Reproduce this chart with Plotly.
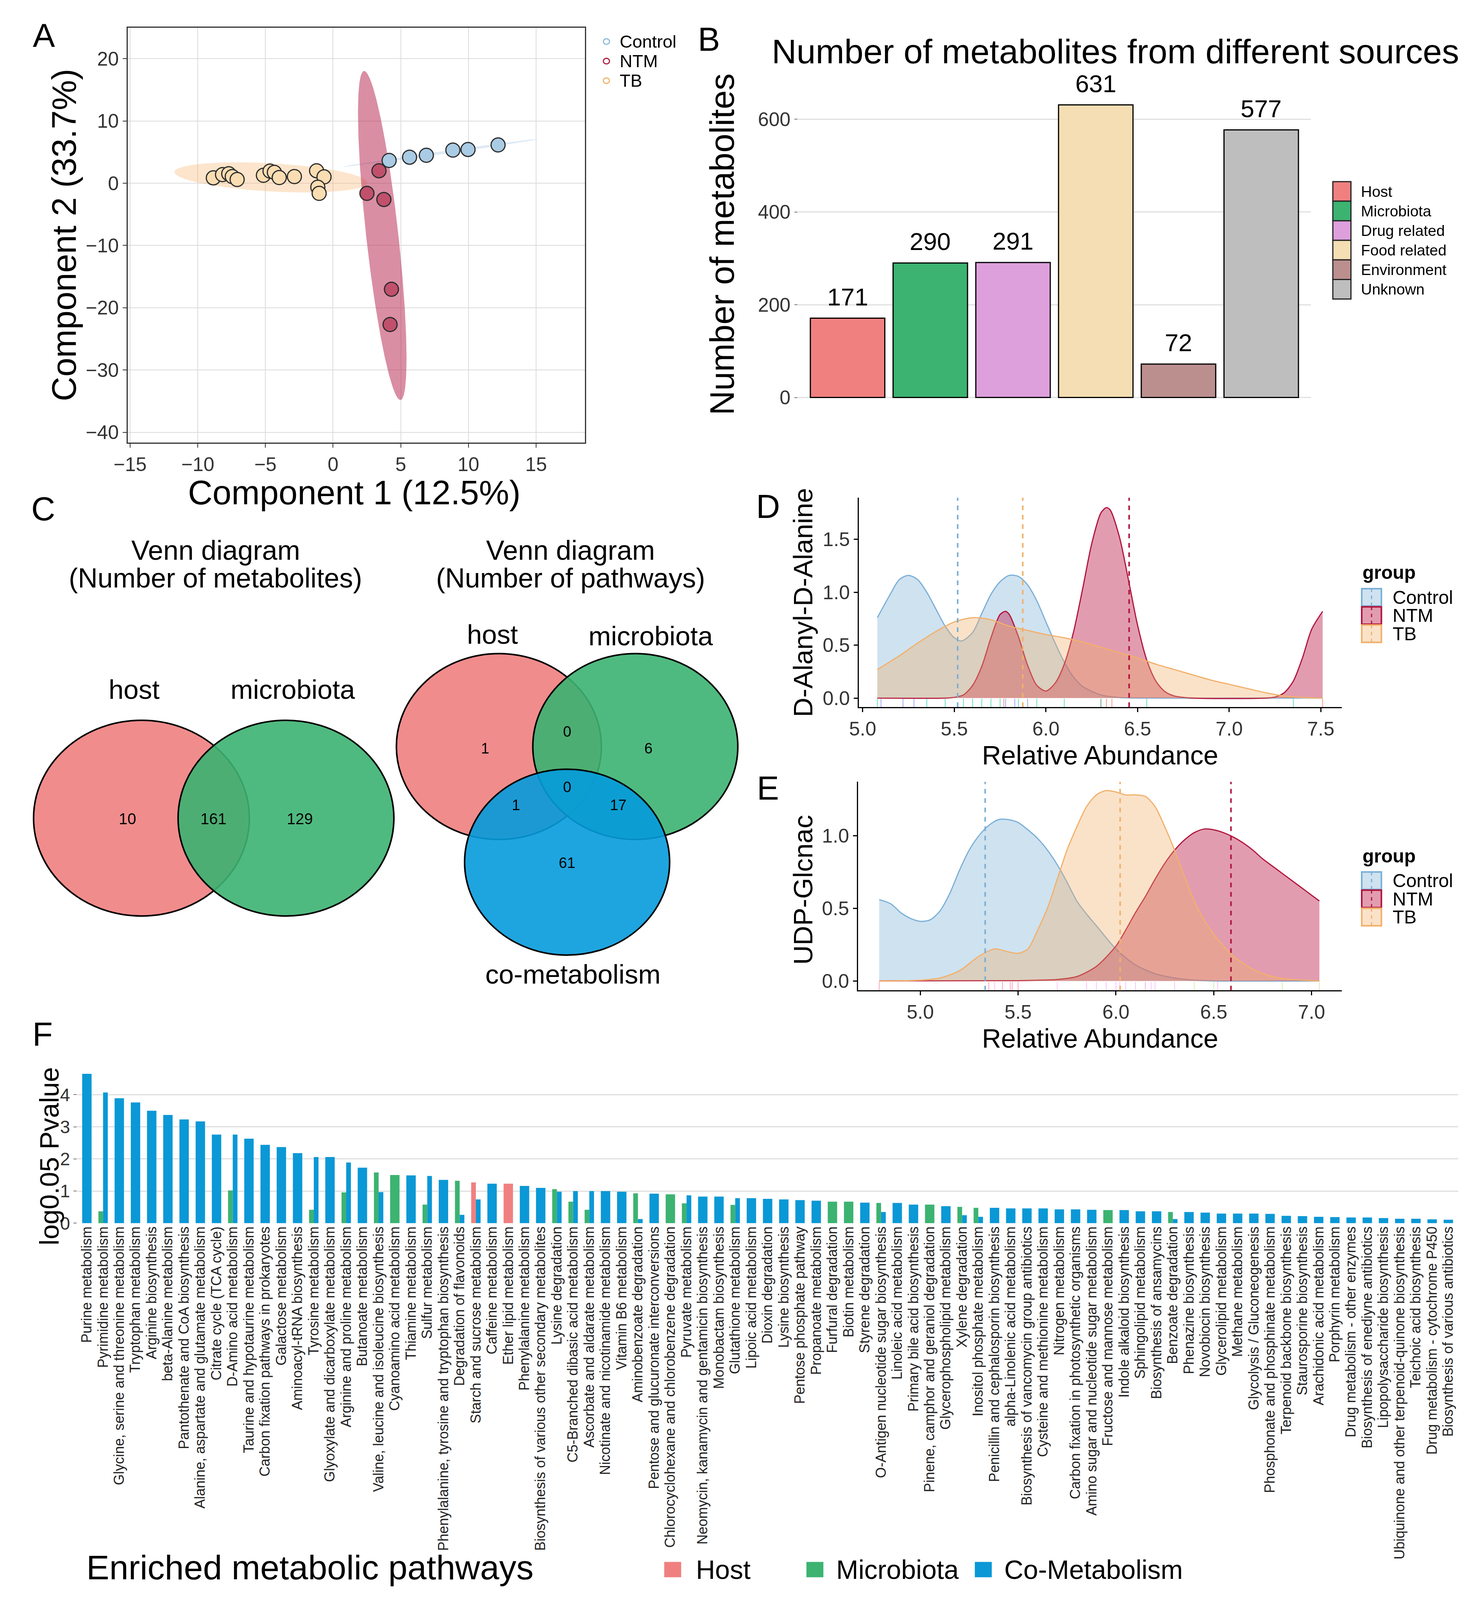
import numpy as np
import plotly.graph_objects as go

# reference frame the layout was measured in (pixels); the figure itself fills the window
W, H = 3780, 4533
FONT = "Liberation Sans, Arial, sans-serif"

# ---------------- data ----------------
# A: sample scores on components 1 and 2
score_groups = ["Control", "NTM", "TB"]
control_comp1 = [4.14, 5.65, 6.89, 8.85, 9.97, 12.19]
control_comp2 = [3.66, 4.18, 4.49, 5.32, 5.42, 6.15]
ntm_comp1 = [3.39, 2.50, 3.75, 4.31, 4.21]
ntm_comp2 = [2.00, -1.63, -2.61, -17.03, -22.69]
tb_comp1 = [-8.85, -8.17, -7.71, -7.45, -7.09, -5.15, -4.66, -4.34, -3.98, -2.86, -1.22, -0.67, -1.13, -1.03]
tb_comp2 = [0.86, 1.38, 1.53, 1.07, 0.60, 1.27, 1.95, 1.74, 0.91, 1.07, 2.00, 1.02, -0.64, -1.63]

# B: metabolites by source
sources = ["Host", "Microbiota", "Drug related", "Food related", "Environment", "Unknown"]
source_counts = [171, 290, 291, 631, 72, 577]

# C: venn counts
venn_metab_counts = [10, 161, 129]            # host only, shared, microbiota only
venn_path_counts = [1, 0, 6, 1, 0, 17, 61]    # h, h&m, m, h&c, all, m&c, c

# D: D-Alanyl-D-Alanine densities
dala_control_x = [5.08, 5.15, 5.20, 5.25, 5.30, 5.35, 5.40, 5.45, 5.50, 5.54, 5.60, 5.65, 5.70, 5.75,
                  5.80, 5.85, 5.90, 5.95, 6.00, 6.05, 6.10, 6.15, 6.20, 6.30, 6.40, 6.60, 7.00, 7.51]
dala_control_y = [0.76, 0.98, 1.12, 1.16, 1.12, 1.00, 0.84, 0.68, 0.57, 0.54, 0.62, 0.80, 0.98, 1.10,
                  1.16, 1.15, 1.07, 0.92, 0.72, 0.52, 0.34, 0.20, 0.11, 0.03, 0.005, 0.0, 0.0, 0.0]
dala_ntm_x = [5.08, 5.45, 5.50, 5.55, 5.60, 5.65, 5.70, 5.75, 5.78, 5.80, 5.85, 5.90, 5.95, 6.00,
              6.05, 6.10, 6.15, 6.20, 6.25, 6.30, 6.33, 6.35, 6.40, 6.45, 6.50, 6.55, 6.60, 6.65,
              6.70, 6.80, 7.20, 7.25, 7.30, 7.35, 7.40, 7.45, 7.51]
dala_ntm_y = [0.0, 0.0, 0.007, 0.03, 0.12, 0.30, 0.57, 0.79, 0.82, 0.79, 0.58, 0.31, 0.12, 0.067,
              0.14, 0.32, 0.62, 1.03, 1.46, 1.75, 1.80, 1.78, 1.53, 1.12, 0.69, 0.36, 0.16, 0.06,
              0.02, 0.0, 0.0, 0.01, 0.05, 0.16, 0.38, 0.65, 0.82]
dala_tb_x = [5.08, 5.20, 5.30, 5.40, 5.50, 5.60, 5.70, 5.80, 5.90, 6.00, 6.10, 6.20, 6.30, 6.40,
             6.50, 6.60, 6.70, 6.80, 6.90, 7.00, 7.10, 7.20, 7.30, 7.40, 7.51]
dala_tb_y = [0.27, 0.40, 0.52, 0.63, 0.72, 0.76, 0.74, 0.68, 0.64, 0.60, 0.57, 0.53, 0.48, 0.43,
             0.38, 0.32, 0.27, 0.22, 0.17, 0.13, 0.09, 0.05, 0.02, 0.005, 0.0]
dala_rug_control = [5.10, 5.22, 5.28, 5.78, 5.83, 5.90]
dala_rug_ntm = [5.77, 6.30, 6.33, 6.36, 7.51]
dala_rug_tb = [5.08, 5.35, 5.45, 5.55, 5.60, 5.65, 5.70, 5.75, 5.85, 5.95, 6.10, 6.30, 6.55, 7.35]

# E: UDP-Glcnac densities
udp_control_x = [4.79, 4.85, 4.90, 4.95, 5.00, 5.05, 5.10, 5.15, 5.20, 5.25, 5.30, 5.35, 5.40, 5.45, 5.50,
                 5.55, 5.60, 5.65, 5.70, 5.75, 5.80, 5.85, 5.90, 6.00, 6.10, 6.20, 6.30, 6.40, 6.50, 7.04]
udp_control_y = [0.56, 0.53, 0.47, 0.43, 0.41, 0.42, 0.48, 0.60, 0.76, 0.90, 1.00, 1.07, 1.11, 1.11, 1.09,
                 1.04, 0.98, 0.90, 0.80, 0.68, 0.55, 0.46, 0.38, 0.22, 0.11, 0.05, 0.02, 0.005, 0.0, 0.0]
udp_ntm_x = [4.79, 5.50, 5.60, 5.70, 5.80, 5.90, 6.00, 6.05, 6.10, 6.15, 6.20, 6.25, 6.30, 6.35,
             6.40, 6.45, 6.50, 6.55, 6.60, 6.65, 6.70, 6.75, 6.80, 6.85, 6.90, 6.95, 7.00, 7.04]
udp_ntm_y = [0.0, 0.002, 0.005, 0.01, 0.03, 0.10, 0.24, 0.35, 0.47, 0.58, 0.70, 0.81, 0.90, 0.97,
             1.02, 1.045, 1.04, 1.02, 0.99, 0.95, 0.90, 0.84, 0.79, 0.74, 0.69, 0.64, 0.59, 0.55]
udp_tb_x = [4.79, 5.00, 5.10, 5.20, 5.30, 5.38, 5.45, 5.50, 5.55, 5.60, 5.65, 5.70, 5.75, 5.80, 5.85, 5.90,
            5.95, 6.00, 6.05, 6.10, 6.15, 6.20, 6.25, 6.30, 6.35, 6.40, 6.45, 6.50, 6.55, 6.60, 6.70,
            6.80, 6.90, 7.04]
udp_tb_y = [0.0, 0.005, 0.02, 0.07, 0.17, 0.22, 0.20, 0.19, 0.22, 0.35, 0.50, 0.70, 0.90, 1.06, 1.20, 1.28,
            1.31, 1.30, 1.28, 1.28, 1.27, 1.20, 1.06, 0.90, 0.72, 0.55, 0.42, 0.32, 0.24, 0.17, 0.08,
            0.03, 0.01, 0.0]
udp_rug_control = [4.79, 5.35, 5.42, 5.47, 5.50, 5.46]
udp_rug_ntm = [6.15, 6.40, 6.50, 6.85, 7.04]
udp_rug_tb = [5.38, 5.70, 5.85, 5.90, 5.95, 6.00, 6.02, 6.05, 6.10, 6.15, 6.18, 6.20, 6.30, 6.52]

# F: enriched pathways, log0.05 p value by source
pathways = [
    "Purine metabolism", "Pyrimidine metabolism", "Glycine, serine and threonine metabolism",
    "Tryptophan metabolism", "Arginine biosynthesis", "beta-Alanine metabolism",
    "Pantothenate and CoA biosynthesis", "Alanine, aspartate and glutamate metabolism",
    "Citrate cycle (TCA cycle)", "D-Amino acid metabolism", "Taurine and hypotaurine metabolism",
    "Carbon fixation pathways in prokaryotes", "Galactose metabolism", "Aminoacyl-tRNA biosynthesis",
    "Tyrosine metabolism", "Glyoxylate and dicarboxylate metabolism", "Arginine and proline metabolism",
    "Butanoate metabolism", "Valine, leucine and isoleucine biosynthesis", "Cyanoamino acid metabolism",
    "Thiamine metabolism", "Sulfur metabolism", "Phenylalanine, tyrosine and tryptophan biosynthesis",
    "Degradation of flavonoids", "Starch and sucrose metabolism", "Caffeine metabolism",
    "Ether lipid metabolism", "Phenylalanine metabolism",
    "Biosynthesis of various other secondary metabolites", "Lysine degradation",
    "C5-Branched dibasic acid metabolism", "Ascorbate and aldarate metabolism",
    "Nicotinate and nicotinamide metabolism", "Vitamin B6 metabolism", "Aminobenzoate degradation",
    "Pentose and glucuronate interconversions", "Chlorocyclohexane and chlorobenzene degradation",
    "Pyruvate metabolism", "Neomycin, kanamycin and gentamicin biosynthesis", "Monobactam biosynthesis",
    "Glutathione metabolism", "Lipoic acid metabolism", "Dioxin degradation", "Lysine biosynthesis",
    "Pentose phosphate pathway", "Propanoate metabolism", "Furfural degradation", "Biotin metabolism",
    "Styrene degradation", "O-Antigen nucleotide sugar biosynthesis", "Linoleic acid metabolism",
    "Primary bile acid biosynthesis", "Pinene, camphor and geraniol degradation",
    "Glycerophospholipid metabolism", "Xylene degradation", "Inositol phosphate metabolism",
    "Penicillin and cephalosporin biosynthesis", "alpha-Linolenic acid metabolism",
    "Biosynthesis of vancomycin group antibiotics", "Cysteine and methionine metabolism",
    "Nitrogen metabolism", "Carbon fixation in photosynthetic organisms",
    "Amino sugar and nucleotide sugar metabolism", "Fructose and mannose metabolism",
    "Indole alkaloid biosynthesis", "Sphingolipid metabolism", "Biosynthesis of ansamycins",
    "Benzoate degradation", "Phenazine biosynthesis", "Novobiocin biosynthesis", "Glycerolipid metabolism",
    "Methane metabolism", "Glycolysis / Gluconeogenesis", "Phosphonate and phosphinate metabolism",
    "Terpenoid backbone biosynthesis", "Staurosporine biosynthesis", "Arachidonic acid metabolism",
    "Porphyrin metabolism", "Drug metabolism - other enzymes", "Biosynthesis of enediyne antibiotics",
    "Lipopolysaccharide biosynthesis", "Ubiquinone and other terpenoid-quinone biosynthesis",
    "Teichoic acid biosynthesis", "Drug metabolism - cytochrome P450", "Biosynthesis of various antibiotics",
]
N = None
host_p = [N] * 24 + [1.27, N, 1.23] + [N] * 58
microbiota_p = [
    N, 0.37, N, N, N, N, N, N, N, 1.02,
    N, N, N, N, 0.42, N, 0.96, N, 1.58, 1.50,
    N, 0.58, N, 1.32, N, N, N, N, N, 1.06,
    0.67, 0.42, N, N, 0.93, N, 0.90, 0.62, N, N,
    0.57, N, N, N, N, N, 0.67, 0.67, N, 0.63,
    N, N, 0.58, N, 0.51, 0.48, N, N, N, N,
    N, N, N, 0.41, N, N, N, 0.35, N, N,
    N, N, N, N, N, N, N, N, N, N,
    N, N, N, N, N,
]
cometab_p = [
    4.65, 4.07, 3.89, 3.76, 3.50, 3.37, 3.23, 3.17, 2.76, 2.76,
    2.63, 2.44, 2.37, 2.18, 2.06, 2.06, 1.89, 1.73, 0.97, N,
    1.49, 1.47, 1.35, 0.26, 0.74, 1.23, N, 1.16, 1.10, 0.98,
    1.00, 1.00, 1.00, 0.98, 0.13, 0.92, N, 0.87, 0.83, 0.83,
    0.78, 0.78, 0.76, 0.74, 0.72, 0.70, N, N, 0.64, 0.35,
    0.63, 0.58, N, 0.53, 0.25, 0.20, 0.48, 0.46, 0.46, 0.46,
    0.43, 0.43, 0.42, N, 0.41, 0.37, 0.37, 0.13, 0.35, 0.33,
    0.30, 0.30, 0.30, 0.29, 0.23, 0.22, 0.20, 0.19, 0.18, 0.18,
    0.16, 0.14, 0.14, 0.12, 0.11,
]

# ---------------- helpers ----------------
annotations = []
shapes = []


def dom_x(left, right):
    return [left / W, right / W]


def dom_y(top, bottom):
    return [1 - bottom / H, 1 - top / H]


def label(text, x, y, size, **kw):
    font = kw.pop("font", {})
    kw.setdefault("xanchor", "center")
    kw.setdefault("yanchor", "middle")
    annotations.append(dict(text=text, x=x / W, y=1 - y / H, xref="paper", yref="paper",
                            showarrow=False, font=dict(size=size, color="black", **font), **kw))


def rect(x0, y0, x1, y1, **kw):
    shapes.append(dict(type="rect", xref="paper", yref="paper",
                       x0=x0 / W, x1=x1 / W, y0=1 - y1 / H, y1=1 - y0 / H, **kw))


def circle(cx, cy, r, **kw):
    shapes.append(dict(type="circle", xref="paper", yref="paper",
                       x0=(cx - r) / W, x1=(cx + r) / W, y0=1 - (cy + r) / H, y1=1 - (cy - r) / H, **kw))


def conf_ellipse(x, y, level=0.95, n=240):
    pts = np.column_stack([x, y])
    mu = pts.mean(axis=0)
    vals, vecs = np.linalg.eigh(np.cov(pts.T))
    scale = np.sqrt(-2 * np.log(1 - level))
    t = np.linspace(0, 2 * np.pi, n)
    unit = np.column_stack([np.cos(t), np.sin(t)])
    ell = (unit * np.sqrt(vals) * scale) @ vecs.T + mu
    return ell[:, 0], ell[:, 1]


fig = go.Figure()

# ---------------- A ----------------
a_sets = [
    (control_comp1, control_comp2, "rgba(160,195,225,0.35)", "#AACBE4", "#8EBAD9"),
    (ntm_comp1, ntm_comp2, "rgba(185,50,90,0.55)", "#C0506C", "#B22043"),
    (tb_comp1, tb_comp2, "rgba(245,180,110,0.35)", "#FBDDB2", "#F0B46C"),
]
for xs, ys, ell_fill, _, _ in [a_sets[2], a_sets[0], a_sets[1]]:
    ex, ey = conf_ellipse(xs, ys)
    fig.add_trace(go.Scatter(x=ex, y=ey, mode="lines", fill="toself", fillcolor=ell_fill,
                             line=dict(width=0), hoverinfo="skip", xaxis="x", yaxis="y"))
for (xs, ys, _, pt_fill, _), name in zip(a_sets, score_groups):
    fig.add_trace(go.Scatter(x=xs, y=ys, mode="markers", name=name, xaxis="x", yaxis="y",
                             marker=dict(size=36, color=pt_fill, line=dict(color="#2b2b2b", width=3))))

for (_, _, _, _, leg_col), name, yy in zip(a_sets, score_groups, [110, 166, 222]):
    circle(1529, yy, 8, line=dict(color=leg_col, width=3), fillcolor="rgba(0,0,0,0)")
    label(name, 1561, yy, 45, xanchor="left")
label("Component 1 (12.5%)", 875, 1400, 87)
label("Component 2 (33.7%)", 121, 664, 87, textangle=-90)

# ---------------- B ----------------
source_colors = ["#F08080", "#3CB371", "#DDA0DD", "#F5DEB3", "#BC8F8F", "#BEBEBE"]
src_x = list(range(1, len(sources) + 1))
fig.add_trace(go.Bar(x=src_x, y=source_counts, width=0.9, xaxis="x2", yaxis="y2",
                     marker=dict(color=source_colors, line=dict(color="black", width=3))))
for xv, v in zip(src_x, source_counts):
    annotations.append(dict(text=str(v), x=xv, y=v, xref="x2", yref="y2", showarrow=False,
                            xanchor="center", yanchor="bottom", yshift=18,
                            font=dict(size=63, color="black")))
label("Number of metabolites from different sources", 2850, 138, 88)
label("Number of metabolites", 1828, 690, 87, textangle=-90)
for i, (name, col) in enumerate(zip(sources, source_colors)):
    top = 511 + i * 56
    rect(3414, top, 3461, top + 56, fillcolor=col, line=dict(color="#222", width=3))
    label(name, 3485, top + 28, 39, xanchor="left")

# ---------------- C ----------------
venn_host = "rgba(240,128,128,0.9)"
venn_micro = "rgba(60,179,113,0.9)"
venn_co = "rgba(5,155,220,0.9)"
# left: two-set venn
v2_cx, v2_cy, v2_sep, v2_r = 510, 2333, 375, 280
circle(v2_cx - v2_sep / 2, v2_cy, v2_r, fillcolor=venn_host, line=dict(color="black", width=4))
circle(v2_cx + v2_sep / 2, v2_cy, v2_r, fillcolor=venn_micro, line=dict(color="black", width=4))
for cnt, dx in zip(venn_metab_counts, [-224, 0, 224]):
    label(str(cnt), v2_cx + dx, v2_cy + 2, 40)
label("host", v2_cx - 207, 1965, 69)
label("microbiota", v2_cx + 205, 1965, 69)
label("Venn diagram", 515, 1566, 70)
label("(Number of metabolites)", 515, 1646, 70)
# right: three-set venn
v3_cx, v3_top, v3_sep, v3_drop, v3_r = 1427, 2128, 354, 331, 266
circle(v3_cx - v3_sep / 2, v3_top, v3_r, fillcolor=venn_host, line=dict(color="black", width=4))
circle(v3_cx + v3_sep / 2, v3_top, v3_r, fillcolor=venn_micro, line=dict(color="black", width=4))
circle(v3_cx, v3_top + v3_drop, v3_r, fillcolor=venn_co, line=dict(color="black", width=4))
v3_spots = [(-213, 5), (0, -43), (211, 5), (-133, 168), (0, 116), (132, 168), (0, 333)]
for cnt, (dx, dy) in zip(venn_path_counts, v3_spots):
    label(str(cnt), v3_cx + dx, v3_top + dy, 38)
label("host", 1233, 1808, 69)
label("microbiota", 1644, 1812, 69)
label("co-metabolism", 1442, 2780, 69)
label("Venn diagram", 1436, 1566, 70)
label("(Number of pathways)", 1436, 1646, 70)

# ---------------- D & E ----------------
dens_line = ["#7AAFD6", "#B0143C", "#F2B06A"]
dens_fill = ["rgba(122,175,214,0.36)", "rgba(190,35,80,0.45)", "rgba(242,176,106,0.36)"]
density_panels = [
    ("x3", "y3", [(dala_control_x, dala_control_y), (dala_ntm_x, dala_ntm_y), (dala_tb_x, dala_tb_y)],
     [dala_rug_control, dala_rug_ntm, dala_rug_tb], [-0.085, 1.893]),
    ("x4", "y4", [(udp_control_x, udp_control_y), (udp_ntm_x, udp_ntm_y), (udp_tb_x, udp_tb_y)],
     [udp_rug_control, udp_rug_ntm, udp_rug_tb], [-0.065, 1.37]),
]
for xa, ya, curves, rugs, yr in density_panels:
    for (cx, cy), lc, fc in zip(curves, dens_line, dens_fill):
        fig.add_trace(go.Scatter(x=cx, y=cy, mode="lines", fill="tozeroy", fillcolor=fc,
                                 line=dict(color=lc, width=3, shape="spline", smoothing=0.8),
                                 xaxis=xa, yaxis=ya, hoverinfo="skip"))
    for rug, lc in zip(rugs, dens_line):
        fig.add_trace(go.Scatter(x=rug, y=[yr[0] * 0.62] * len(rug), mode="markers", xaxis=xa, yaxis=ya,
                                 marker=dict(symbol="line-ns-open", size=18, line=dict(color=lc, width=2)),
                                 opacity=0.6, hoverinfo="skip"))
        shapes.append(dict(type="line", xref=xa, yref=ya + " domain", x0=float(np.mean(rug)),
                           x1=float(np.mean(rug)), y0=0, y1=1, line=dict(color=lc, width=4, dash="dash")))

for title, ycenter, title_y, key_top in [("D-Alanyl-D-Alanine", 1715, 1630, 1676),
                                         ("UDP-Glcnac", 2538, 2441, 2487)]:
    label(title, 2040, ycenter, 69, textangle=-90)
    label("<b>group</b>", 3489, title_y, 48, xanchor="left")
    for i, (name, lc, fc) in enumerate(zip(score_groups, dens_line, dens_fill)):
        t = key_top + i * 52
        rect(3489, t, 3540, t + 50, fillcolor=fc, line=dict(color=lc, width=4))
        shapes.append(dict(type="line", xref="paper", yref="paper", x0=3514.5 / W, x1=3514.5 / W,
                           y0=1 - (t + 50) / H, y1=1 - t / H, line=dict(color=lc, width=3, dash="dash")))
        label(name, 3567, t + 25, 48, xanchor="left")
label("Relative Abundance", 2810, 2152, 68)
label("Relative Abundance", 2810, 2963, 68)

# ---------------- F ----------------
f_series = [(host_p, "#F08080"), (microbiota_p, "#3CB371"), (cometab_p, "#0B98D6")]
n_present = [sum(vals[i] is not None for vals, _ in f_series) for i in range(len(pathways))]
group_w = 0.58
slot = [0] * len(pathways)
for vals, col in f_series:
    xs, ys, offs, wids = [], [], [], []
    for i, v in enumerate(vals):
        if v is None:
            continue
        w = group_w / n_present[i]
        xs.append(i)
        ys.append(v)
        offs.append(-group_w / 2 + slot[i] * w)
        wids.append(w)
        slot[i] += 1
    fig.add_trace(go.Bar(x=xs, y=ys, offset=offs, width=wids, marker=dict(color=col, line=dict(width=0)),
                         xaxis="x5", yaxis="y5"))
label("log0.05 Pvalue", 83, 3300, 69, textangle=-90)
label("Enriched metabolic pathways", 760, 4478, 88)
for name, col, kx, tx in [("Host", "#F08080", 1701, 1759), ("Microbiota", "#3CB371", 2070, 2123),
                          ("Co-Metabolism", "#0B98D6", 2507, 2559)]:
    rect(kx - 22, 4462, kx + 22, 4506, fillcolor=col, line=dict(width=0))
    label(name, tx, 4484, 68, xanchor="left")

# panel letters
for letter, x, y in [("A", 69, 92), ("B", 1795, 103), ("C", 67, 1447), ("D", 1948, 1441),
                     ("E", 1948, 2247), ("F", 66, 2951)]:
    label(letter, x, y, 85)

# ---------------- layout ----------------
tick_font = dict(size=50, color="#333")
classic = dict(showline=True, linecolor="black", linewidth=3, ticks="outside", ticklen=10, tickwidth=3,
               tickcolor="black", showgrid=False, zeroline=False, tickfont=tick_font)

fig.update_layout(
    autosize=True, margin=dict(l=0, r=0, t=0, b=0),
    paper_bgcolor="white", plot_bgcolor="white", showlegend=False,
    font=dict(family=FONT, color="black"),
    annotations=annotations, shapes=shapes,
    xaxis=dict(domain=dom_x(287, 1473), range=[-15.17, 18.6], dtick=5, tick0=0, anchor="y",
               showgrid=True, gridcolor="#dcdcdc", gridwidth=2, zeroline=False, showline=True, mirror=True,
               linecolor="#333", linewidth=3, ticks="outside", ticklen=10, tickwidth=2, tickcolor="#333",
               tickfont=tick_font),
    yaxis=dict(domain=dom_y(70, 1258), range=[-41.66, 25.0], dtick=10, tick0=0, anchor="x",
               showgrid=True, gridcolor="#dcdcdc", gridwidth=2, zeroline=False, showline=True, mirror=True,
               linecolor="#333", linewidth=3, ticks="outside", ticklen=10, tickwidth=2, tickcolor="#333",
               tickfont=tick_font),
    xaxis2=dict(domain=dom_x(2026, 3357), range=[0.4, 6.6], anchor="y2", showticklabels=False,
                showgrid=False, zeroline=False, showline=False, ticks=""),
    yaxis2=dict(domain=dom_y(213, 1162), range=[-25, 690], anchor="x2", tickvals=[0, 200, 400, 600],
                showgrid=True, gridcolor="#e0e0e0", gridwidth=3, zeroline=False, showline=False,
                ticks="outside", ticklen=8, tickwidth=2, tickcolor="#777", tickfont=tick_font),
    xaxis3=dict(domain=dom_x(2184, 3437), range=[4.979, 7.614], anchor="y3", dtick=0.5, tick0=5,
                tickformat=".1f", **classic),
    yaxis3=dict(domain=dom_y(1416, 2015), range=[-0.085, 1.893], anchor="x3", dtick=0.5, tick0=0,
                tickformat=".1f", **classic),
    xaxis4=dict(domain=dom_x(2182, 3437), range=[4.682, 7.154], anchor="y4", dtick=0.5, tick0=5,
                tickformat=".1f", **classic),
    yaxis4=dict(domain=dom_y(2229, 2826), range=[-0.065, 1.37], anchor="x4", dtick=0.5, tick0=0,
                tickformat=".1f", **classic),
    xaxis5=dict(domain=dom_x(155.6, 3739), range=[-0.6, len(pathways) - 0.4], anchor="y5",
                tickmode="array", tickvals=list(range(len(pathways))), ticktext=pathways, tickangle=-90,
                tickfont=dict(size=36, color="#222"), showgrid=False, zeroline=False, showline=False, ticks=""),
    yaxis5=dict(domain=dom_y(3051, 3492.5), range=[0, 4.8], anchor="x5", dtick=1, tick0=0,
                showgrid=True, gridcolor="#e0e0e0", gridwidth=3, zeroline=False, showline=False,
                ticks="outside", ticklen=8, tickwidth=2, tickcolor="#777", tickfont=dict(size=46, color="#333")),
)

fig.write_html("out.html")
